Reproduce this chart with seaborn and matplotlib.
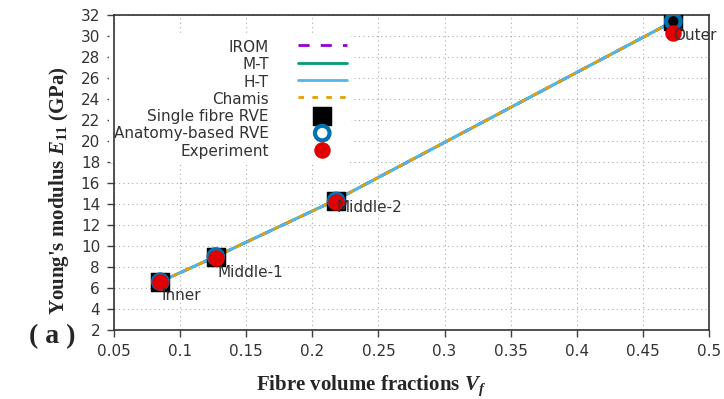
import matplotlib
matplotlib.use("Agg")
import matplotlib.pyplot as plt
import seaborn as sns
import pandas as pd

# Fibre volume fraction of each RVE sample
regions = ["Inner", "Middle-1", "Middle-2", "Outer"]
vf = [0.085, 0.127, 0.218, 0.473]

# Longitudinal Young's modulus E11 (GPa)
e_irom = [6.6, 9.0, 14.4, 31.4]
e_mt = [6.6, 9.0, 14.4, 31.4]
e_ht = [6.6, 9.0, 14.4, 31.4]
e_chamis = [6.6, 9.0, 14.4, 31.4]
e_single = [6.6, 9.0, 14.3, 31.4]
e_anatomy = [6.6, 9.0, 14.3, 31.4]
e_exp = [6.6, 8.9, 14.2, 30.3]

x_ticks = [0.05, 0.1, 0.15, 0.2, 0.25, 0.3, 0.35, 0.4, 0.45, 0.5]
x_tick_labels = ["0.05", "0.1", "0.15", "0.2", "0.25", "0.3", "0.35", "0.4", "0.45", "0.5"]
y_ticks = list(range(2, 33, 2))

sns.set_style("white")
plt.rcParams["font.family"] = ["DejaVu Sans"]
plt.rcParams["mathtext.fontset"] = "custom"
plt.rcParams["mathtext.it"] = "Liberation Serif:bold:italic"
plt.rcParams["mathtext.rm"] = "Liberation Serif:bold"
plt.rcParams["mathtext.bf"] = "Liberation Serif:bold"

fig = plt.figure(figsize=(7.24, 3.99), dpi=100)
ax = fig.add_axes([114 / 724, 1 - 330 / 399, (709 - 114) / 724, (330 - 15) / 399])

df = pd.DataFrame({"vf": vf, "irom": e_irom, "mt": e_mt, "ht": e_ht, "chamis": e_chamis,
                   "single": e_single, "anatomy": e_anatomy, "exp": e_exp})

sns.lineplot(data=df, x="vf", y="irom", ax=ax, color="#9400D3", lw=2.0,
             label="IROM", zorder=3).lines[-1].set_dashes([4, 4])
sns.lineplot(data=df, x="vf", y="mt", ax=ax, color="#009E73", lw=2.0, label="M-T", zorder=3)
sns.lineplot(data=df, x="vf", y="ht", ax=ax, color="#56B4E9", lw=2.0, label="H-T", zorder=4)
sns.lineplot(data=df, x="vf", y="chamis", ax=ax, color="#E69F00", lw=2.0,
             label="Chamis", zorder=5).lines[-1].set_dashes([2, 3])

sns.scatterplot(data=df, x="vf", y="single", ax=ax, marker="s", s=170, color="black",
                edgecolor="black", label="Single fibre RVE", zorder=6)
sns.scatterplot(data=df, x="vf", y="anatomy", ax=ax, marker="o", s=110, facecolor="none",
                edgecolor="#0072B2", linewidth=3, label="Anatomy-based RVE", zorder=7)
sns.scatterplot(data=df, x="vf", y="exp", ax=ax, marker="o", s=120, color="#E00000",
                edgecolor="#E00000", label="Experiment", zorder=8)

# Region names beside the experimental points
offsets = {"Inner": (1, -10), "Middle-1": (1, -11), "Middle-2": (0, -4), "Outer": (0, -2)}
for name, x, y in zip(regions, vf, e_exp):
    dx, dy = offsets[name]
    ax.annotate(name, (x, y), xytext=(dx, dy), textcoords="offset points",
                ha="left", va="center", fontsize=11, color="#333333", zorder=9)

ax.set_xlim(0.05, 0.5)
ax.set_ylim(2, 32)
ax.set_xticks(x_ticks)
ax.set_xticklabels(x_tick_labels)
ax.set_yticks(y_ticks)
ax.tick_params(axis="both", direction="out", length=5, width=1, colors="#404040",
               labelsize=11, labelcolor="#333333", top=False, right=False,
               bottom=True, left=True)
ax.tick_params(axis="x", pad=5)
ax.tick_params(axis="y", pad=5)
ax.grid(True, linestyle=(0, (1, 3)), color="#aaaaaa", lw=0.8)
ax.set_axisbelow(True)
for sp in ax.spines.values():
    sp.set_color("#333333")
    sp.set_linewidth(1.2)
    sp.set_zorder(4)

ax.set_xlabel("Fibre volume fractions $V_f$", family="Liberation Serif",
              fontweight="bold", fontsize=15)
ax.set_ylabel("Young's modulus $E_{11}$ (GPa)", family="Liberation Serif",
              fontweight="bold", fontsize=15)
ax.xaxis.set_label_coords((371 - 114) / 595, -0.137)
ax.yaxis.set_label_coords(-0.072, (330 - 191) / 315)

fig.text(52 / 724, 1 - 337 / 399, "( a )", family="Liberation Serif", fontweight="bold",
         fontsize=20, ha="center", va="center")

leg = ax.legend(loc="upper left", bbox_to_anchor=(-0.013, 0.945), markerfirst=False,
                frameon=True, fontsize=11, handlelength=3.2, labelspacing=0.15,
                borderpad=0.3, handletextpad=1.9, borderaxespad=0.2)
leg.get_frame().set_facecolor("white")
leg.get_frame().set_edgecolor("none")
leg.get_frame().set_alpha(1)
leg.set_zorder(2)
for t in leg.get_texts():
    t.set_color("#333333")
leg._legend_box.align = "right"
for vp in leg._legend_box._children[-1]._children:
    for c in vp._children:
        c.align = "right"

fig.savefig("out.png", dpi=100)
